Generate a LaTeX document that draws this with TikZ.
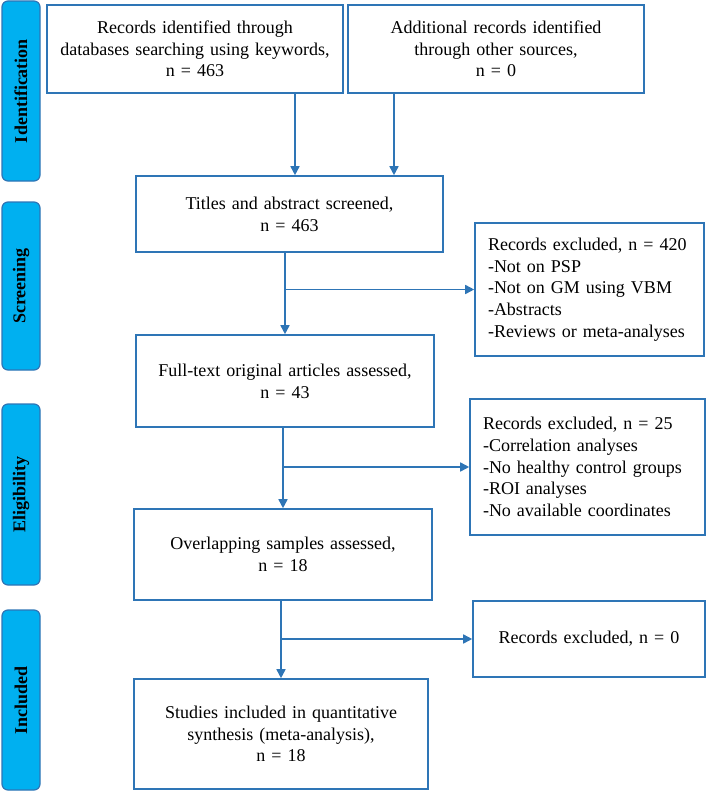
\documentclass[tikz,border=0pt]{standalone}
\usepackage{fontspec}
\setmainfont{Liberation Serif}
\usepackage{tikz}
\usetikzlibrary{shapes, arrows.meta, positioning}
\usepackage{xcolor}
\definecolor{prismablue}{RGB}{46,117,182}
\definecolor{phasefill}{RGB}{0,176,240}

\begin{document}
\begin{tikzpicture}[x=1pt, y=-1pt, thick, font=\fontsize{18}{21.7}\selectfont]
        % Define block styles
        \tikzstyle{block} = [rectangle, draw=prismablue, line width=1.6pt, inner xsep=4pt, inner ysep=0pt, align=center]
        \tikzstyle{exclude} = [block, inner xsep=13pt, align=left]
        \tikzstyle{phase} = [rectangle, rounded corners=6pt, draw=prismablue, line width=1.2pt, fill=phasefill, rotate=90, minimum height=38pt, inner sep=0pt, font=\fontsize{18}{21.7}\selectfont\bfseries]
        \tikzstyle{line} = [draw=prismablue, line width=1.6pt, -{Triangle[length=9pt, width=9pt]}]

        \useasboundingbox (0,0) rectangle (706,792);

        % Phase labels
        \node [phase, minimum width=180pt] (ident) at (21,91) {Identification};
        \node [phase, minimum width=168pt] (screen) at (21,286) {Screening};
        \node [phase, minimum width=181pt] (elig) at (21,494.5) {Eligibility};
        \node [phase, minimum width=180pt] (incl) at (21,700) {Included};

        % Define nodes
        \node [block, text width=288pt, minimum height=88pt] (db) at (195,49) {Records identified through\\ databases searching using keywords,\\ n = 463};
        \node [block, text width=288pt, minimum height=88pt] (other) at (496,49) {Additional records identified\\ through other sources,\\ n = 0};
        \node [block, text width=299pt, minimum height=76pt] (screened) at (289.5,214) {Titles and abstract screened,\\ n = 463};
        \node [exclude, text width=203pt, minimum height=133pt] (excl1) at (589.5,289.5) {Records excluded, n = 420\\ -Not on PSP\\ -Not on GM using VBM\\ -Abstracts\\ -Reviews or meta-analyses};
        \node [block, text width=290pt, minimum height=92pt] (fulltext) at (285,381) {Full-text original articles assessed,\\ n = 43};
        \node [exclude, text width=209pt, minimum height=136pt] (excl2) at (587.5,467) {Records excluded, n = 25\\ -Correlation analyses\\ -No healthy control groups\\ -ROI analyses\\ -No available coordinates};
        \node [block, text width=290pt, minimum height=91pt] (overlap) at (283,554.5) {Overlapping samples assessed,\\ n = 18};
        \node [block, text width=224pt, minimum height=76pt] (excl3) at (589,639) {Records excluded, n = 0};
        \node [block, text width=286pt, minimum height=110pt] (studies) at (281,734) {Studies included in quantitative\\ synthesis (meta-analysis),\\ n = 18};

        % Connect nodes with paths
        \path [line] ([xshift=100pt]db.south) -- ([xshift=100pt]db.south |- screened.north);
        \path [line] ([xshift=-102pt]other.south) -- ([xshift=-102pt]other.south |- screened.north);
        \path [line] (screened.south -| fulltext.north) -- (fulltext.north);
        \path [line] (excl1.west -| fulltext.north) -- (excl1.west);
        \path [line] (fulltext.south -| overlap.north) -- (overlap.north);
        \path [line] (excl2.west -| overlap.north) -- (excl2.west);
        \path [line] (overlap.south -| studies.north) -- (studies.north);
        \path [line] (excl3.west -| studies.north) -- (excl3.west);

\end{tikzpicture}
\end{document}
